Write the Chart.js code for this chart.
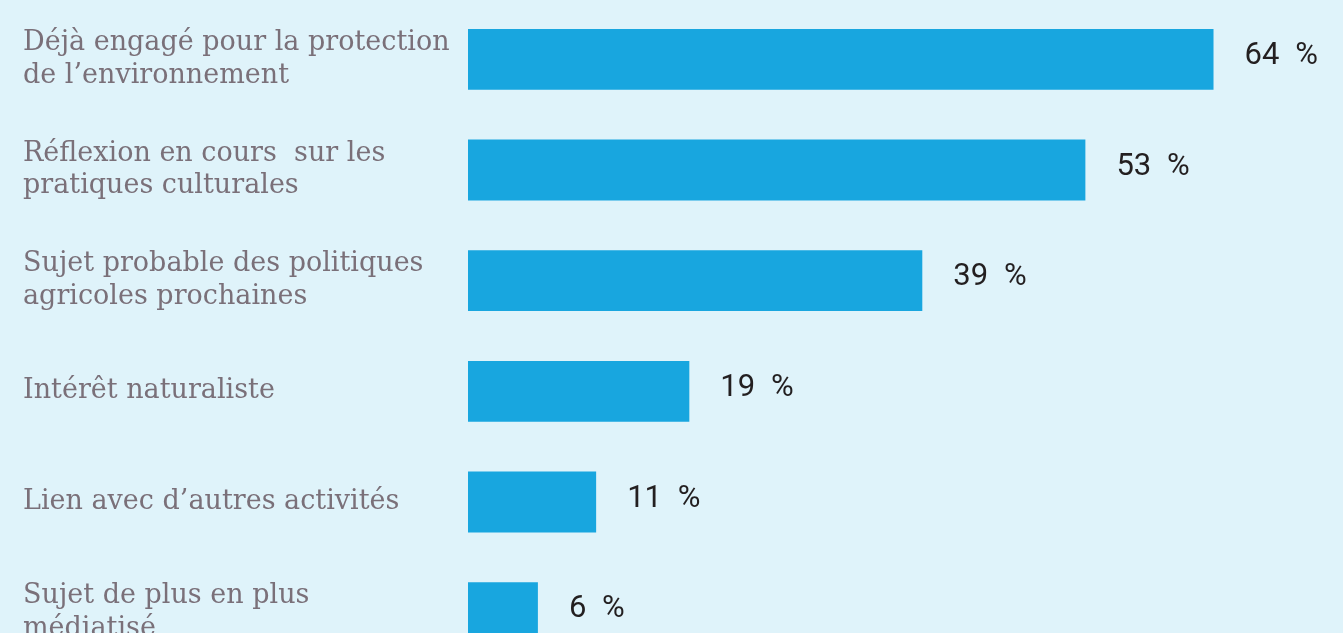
<!DOCTYPE html>
<html lang="fr">
<head>
<meta charset="utf-8">
<title>Motivations</title>
<script src="https://cdn.jsdelivr.net/npm/chart.js@4.4.1/dist/chart.umd.min.js"></script>
<style>
  html, body { margin: 0; padding: 0; background: #dff3fa; overflow: hidden; }
  #wrap { position: relative; width: 1343px; height: 668px; }
</style>
</head>
<body>
<div id="wrap"><canvas id="chart"></canvas></div>
<script>
// libellés (sur deux lignes) et pourcentages
const categories = [
  ["Déjà engagé pour la protection", "de l’environnement"],
  ["Réflexion en cours  sur les", "pratiques culturales"],
  ["Sujet probable des politiques", "agricoles prochaines"],
  "Intérêt naturaliste",
  "Lien avec d’autres activités",
  ["Sujet de plus en plus", "médiatisé"]
];
const values = [64, 53, 39, 19, 11, 6];
const valueLabels = ["64 %", "53 %", "39 %", "19 %", "11 %", "6 %"];

// texte de valeur à droite de chaque barre
const valueLabelPlugin = {
  id: "valueLabel",
  afterDatasetsDraw(chart) {
    const ctx = chart.ctx;
    const meta = chart.getDatasetMeta(0);
    ctx.save();
    ctx.font = "31px 'Liberation Sans Narrow', Roboto, sans-serif";
    ctx.fillStyle = "#231f20";
    ctx.textAlign = "left";
    ctx.textBaseline = "middle";
    meta.data.forEach((bar, i) => {
      ctx.fillText(valueLabels[i].replace(" ", "\u2002"), bar.x + 31, bar.y - 3);
    });
    ctx.restore();
  }
};

new Chart(document.getElementById("chart"), {
  type: "bar",
  data: {
    labels: categories,
    datasets: [{
      data: values,
      backgroundColor: "#18a6df",
      borderWidth: 0,
      barPercentage: 0.55,
      categoryPercentage: 1
    }]
  },
  options: {
    indexAxis: "y",
    responsive: true,
    maintainAspectRatio: false,
    animation: false,
    layout: { padding: { left: 23, right: 13, top: 4, bottom: 0 } },
    plugins: {
      legend: { display: false },
      tooltip: { enabled: false }
    },
    scales: {
      x: {
        display: false,
        min: 0,
        max: 74
      },
      y: {
        grid: { display: false },
        border: { display: false },
        afterFit(scale) {
          scale.width = 445;
          scale.paddingTop = 0;
          scale.paddingBottom = 0;
        },
        ticks: {
          crossAlign: "far",
          color: "#7a7079",
          font: { family: "'DejaVu Serif', serif", size: 27, lineHeight: 1.22 }
        }
      }
    }
  },
  plugins: [valueLabelPlugin]
});
</script>
</body>
</html>
